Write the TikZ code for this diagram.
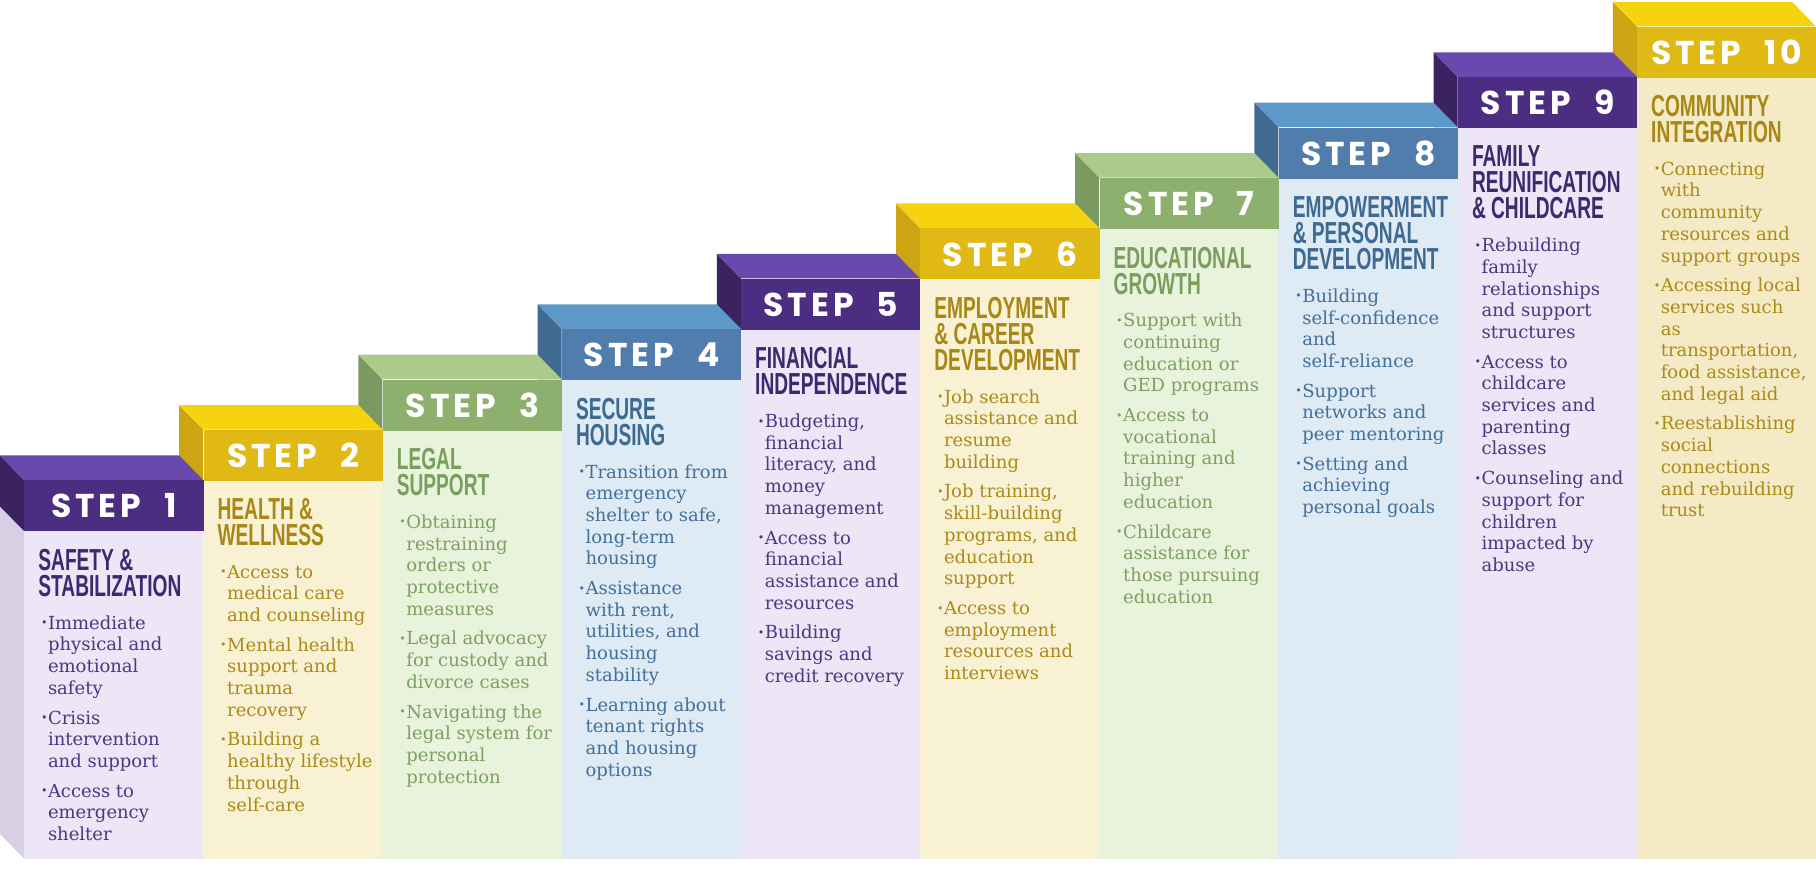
\documentclass[tikz,border=0pt]{standalone}
\usepackage{fontspec}
\setmainfont{DejaVu Serif}
\newfontfamily\ttlfont{Liberation Sans}[FakeStretch=0.63]
\newfontfamily\stepfont{Poppins}[LetterSpace=12]
\usepackage{tikz}
\usetikzlibrary{positioning}
\usepackage{xcolor}
% purple steps
\definecolor{purHead}{HTML}{4B2D82}
\definecolor{purTop}{HTML}{684AAE}
\definecolor{purSide}{HTML}{3A235F}
\definecolor{purBody}{HTML}{ECE6F6}
\definecolor{purTitle}{HTML}{3E286E}
\definecolor{purText}{HTML}{4B3782}
% yellow steps
\definecolor{yelHead}{HTML}{E1B914}
\definecolor{yelTop}{HTML}{F5D40F}
\definecolor{yelSide}{HTML}{CDA514}
\definecolor{yelBody}{HTML}{F8F1D4}
\definecolor{yelBodyLast}{HTML}{F4EBC6}
\definecolor{yelTitle}{HTML}{A88714}
\definecolor{yelText}{HTML}{AA8A19}
% green steps
\definecolor{grnHead}{HTML}{8DB06E}
\definecolor{grnTop}{HTML}{AACB8A}
\definecolor{grnSide}{HTML}{7A9A60}
\definecolor{grnBody}{HTML}{E9F3DC}
\definecolor{grnTitle}{HTML}{7A9E5E}
\definecolor{grnText}{HTML}{7DA062}
% blue steps
\definecolor{bluHead}{HTML}{507DAC}
\definecolor{bluTop}{HTML}{5E98C8}
\definecolor{bluSide}{HTML}{416A91}
\definecolor{bluBody}{HTML}{DEEAF4}
\definecolor{bluTitle}{HTML}{3E6991}
\definecolor{bluText}{HTML}{42709B}
\newcommand{\bul}{\makebox[3.5pt][l]{\raisebox{1.2pt}{\fontsize{5.5}{5.5}\selectfont\textbullet}}}
\newcommand{\ind}{\hspace*{3.5pt}}

\begin{document}
\begin{tikzpicture}[x=0.5pt, y=-0.5pt,
  hdr/.style={anchor=north west, minimum width=89.6pt, minimum height=25.5pt, inner sep=0,
    text=white, font=\stepfont\bfseries\fontsize{16.5}{16.5}\selectfont},
  ttl/.style={inner sep=0, align=left, font=\ttlfont\bfseries\fontsize{15.2}{13}\selectfont},
  lst/.style={inner sep=0, align=left, font=\fontsize{9}{10.85}\selectfont}]
  \useasboundingbox (0,0) rectangle (1816,876);
  % the staircase, back to front
  \foreach \i/\c/\b in {10/yel/yelBodyLast,9/pur/purBody,8/blu/bluBody,7/grn/grnBody,6/yel/yelBody,
                        5/pur/purBody,4/blu/bluBody,3/grn/grnBody,2/yel/yelBody,1/pur/purBody} {
    \pgfmathsetmacro{\L}{24+179.2*(\i-1)}
    \pgfmathsetmacro{\R}{\L+179.2}
    \pgfmathsetmacro{\T}{480-50.4*(\i-1)}
    \pgfmathsetmacro{\HB}{\T+51}
    % column
    \fill[fill=\c Side!12!\b] (\L-24,\HB-24.5) -- (\L,\HB) -- (\L,858.5) -- (\L-24,834) -- cycle;
    \fill[fill=\b] (\L,\HB) rectangle (\R,858.5);
    % block on top
    \fill[fill=\c Side] (\L-24,\T-24.5) -- (\L,\T) -- (\L,\HB) -- (\L-24,\HB-24.5) -- cycle;
    \fill[fill=\c Top] (\L-24,\T-24.5) -- (\R-24,\T-24.5) -- (\R,\T) -- (\L,\T) -- cycle;
    \node[hdr, fill=\c Head] (h\i) at (\L,\T) {STEP\hspace{0.7em}\i};
  }
  % Step 1
  \node[ttl, text=purTitle, below right=8.5pt and 7pt of h1.south west] (t1) {SAFETY \&\\STABILIZATION};
  \node[lst, text=purText, below right=9pt and 1.3pt of t1.south west] (l1)
    {\bul Immediate\\ \ind physical and\\ \ind emotional\\ \ind safety\\[4pt]
     \bul Crisis\\ \ind intervention\\ \ind and support\\[4pt]
     \bul Access to\\ \ind emergency\\ \ind shelter};
  % Step 2
  \node[ttl, text=yelTitle, below right=8.5pt and 7pt of h2.south west] (t2) {HEALTH \&\\WELLNESS};
  \node[lst, text=yelText, below right=9pt and 1.3pt of t2.south west] (l2)
    {\bul Access to\\ \ind medical care\\ \ind and counseling\\[4pt]
     \bul Mental health\\ \ind support and\\ \ind trauma\\ \ind recovery\\[4pt]
     \bul Building a\\ \ind healthy lifestyle\\ \ind through\\ \ind self-care};
  % Step 3
  \node[ttl, text=grnTitle, below right=8.5pt and 7pt of h3.south west] (t3) {LEGAL\\SUPPORT};
  \node[lst, text=grnText, below right=9pt and 1.3pt of t3.south west] (l3)
    {\bul Obtaining\\ \ind restraining\\ \ind orders or\\ \ind protective\\ \ind measures\\[4pt]
     \bul Legal advocacy\\ \ind for custody and\\ \ind divorce cases\\[4pt]
     \bul Navigating the\\ \ind legal system for\\ \ind personal\\ \ind protection};
  % Step 4
  \node[ttl, text=bluTitle, below right=8.5pt and 7pt of h4.south west] (t4) {SECURE\\HOUSING};
  \node[lst, text=bluText, below right=9pt and 1.3pt of t4.south west] (l4)
    {\bul Transition from\\ \ind emergency\\ \ind shelter to safe,\\ \ind long-term\\ \ind housing\\[4pt]
     \bul Assistance\\ \ind with rent,\\ \ind utilities, and\\ \ind housing\\ \ind stability\\[4pt]
     \bul Learning about\\ \ind tenant rights\\ \ind and housing\\ \ind options};
  % Step 5
  \node[ttl, text=purTitle, below right=8.5pt and 7pt of h5.south west] (t5) {FINANCIAL\\INDEPENDENCE};
  \node[lst, text=purText, below right=9pt and 1.3pt of t5.south west] (l5)
    {\bul Budgeting,\\ \ind financial\\ \ind literacy, and\\ \ind money\\ \ind management\\[4pt]
     \bul Access to\\ \ind financial\\ \ind assistance and\\ \ind resources\\[4pt]
     \bul Building\\ \ind savings and\\ \ind credit recovery};
  % Step 6
  \node[ttl, text=yelTitle, below right=8.5pt and 7pt of h6.south west] (t6) {EMPLOYMENT\\\& CAREER\\DEVELOPMENT};
  \node[lst, text=yelText, below right=9pt and 1.3pt of t6.south west] (l6)
    {\bul Job search\\ \ind assistance and\\ \ind resume\\ \ind building\\[4pt]
     \bul Job training,\\ \ind skill-building\\ \ind programs, and\\ \ind education\\ \ind support\\[4pt]
     \bul Access to\\ \ind employment\\ \ind resources and\\ \ind interviews};
  % Step 7
  \node[ttl, text=grnTitle, below right=8.5pt and 7pt of h7.south west] (t7) {EDUCATIONAL\\GROWTH};
  \node[lst, text=grnText, below right=9pt and 1.3pt of t7.south west] (l7)
    {\bul Support with\\ \ind continuing\\ \ind education or\\ \ind GED programs\\[4pt]
     \bul Access to\\ \ind vocational\\ \ind training and\\ \ind higher\\ \ind education\\[4pt]
     \bul Childcare\\ \ind assistance for\\ \ind those pursuing\\ \ind education};
  % Step 8
  \node[ttl, text=bluTitle, below right=8.5pt and 7pt of h8.south west] (t8) {EMPOWERMENT\\\& PERSONAL\\DEVELOPMENT};
  \node[lst, text=bluText, below right=9pt and 1.3pt of t8.south west] (l8)
    {\bul Building\\ \ind self-confidence\\ \ind and\\ \ind self-reliance\\[4pt]
     \bul Support\\ \ind networks and\\ \ind peer mentoring\\[4pt]
     \bul Setting and\\ \ind achieving\\ \ind personal goals};
  % Step 9
  \node[ttl, text=purTitle, below right=8.5pt and 7pt of h9.south west] (t9) {FAMILY\\REUNIFICATION\\\& CHILDCARE};
  \node[lst, text=purText, below right=9pt and 1.3pt of t9.south west] (l9)
    {\bul Rebuilding\\ \ind family\\ \ind relationships\\ \ind and support\\ \ind structures\\[4pt]
     \bul Access to\\ \ind childcare\\ \ind services and\\ \ind parenting\\ \ind classes\\[4pt]
     \bul Counseling and\\ \ind support for\\ \ind children\\ \ind impacted by\\ \ind abuse};
  % Step 10
  \node[ttl, text=yelTitle, below right=8.5pt and 7pt of h10.south west] (t10) {COMMUNITY\\INTEGRATION};
  \node[lst, text=yelText, below right=9pt and 1.3pt of t10.south west] (l10)
    {\bul Connecting\\ \ind with\\ \ind community\\ \ind resources and\\ \ind support groups\\[4pt]
     \bul Accessing local\\ \ind services such\\ \ind as\\ \ind transportation,\\ \ind food assistance,\\ \ind and legal aid\\[4pt]
     \bul Reestablishing\\ \ind social\\ \ind connections\\ \ind and rebuilding\\ \ind trust};
\end{tikzpicture}
\end{document}
